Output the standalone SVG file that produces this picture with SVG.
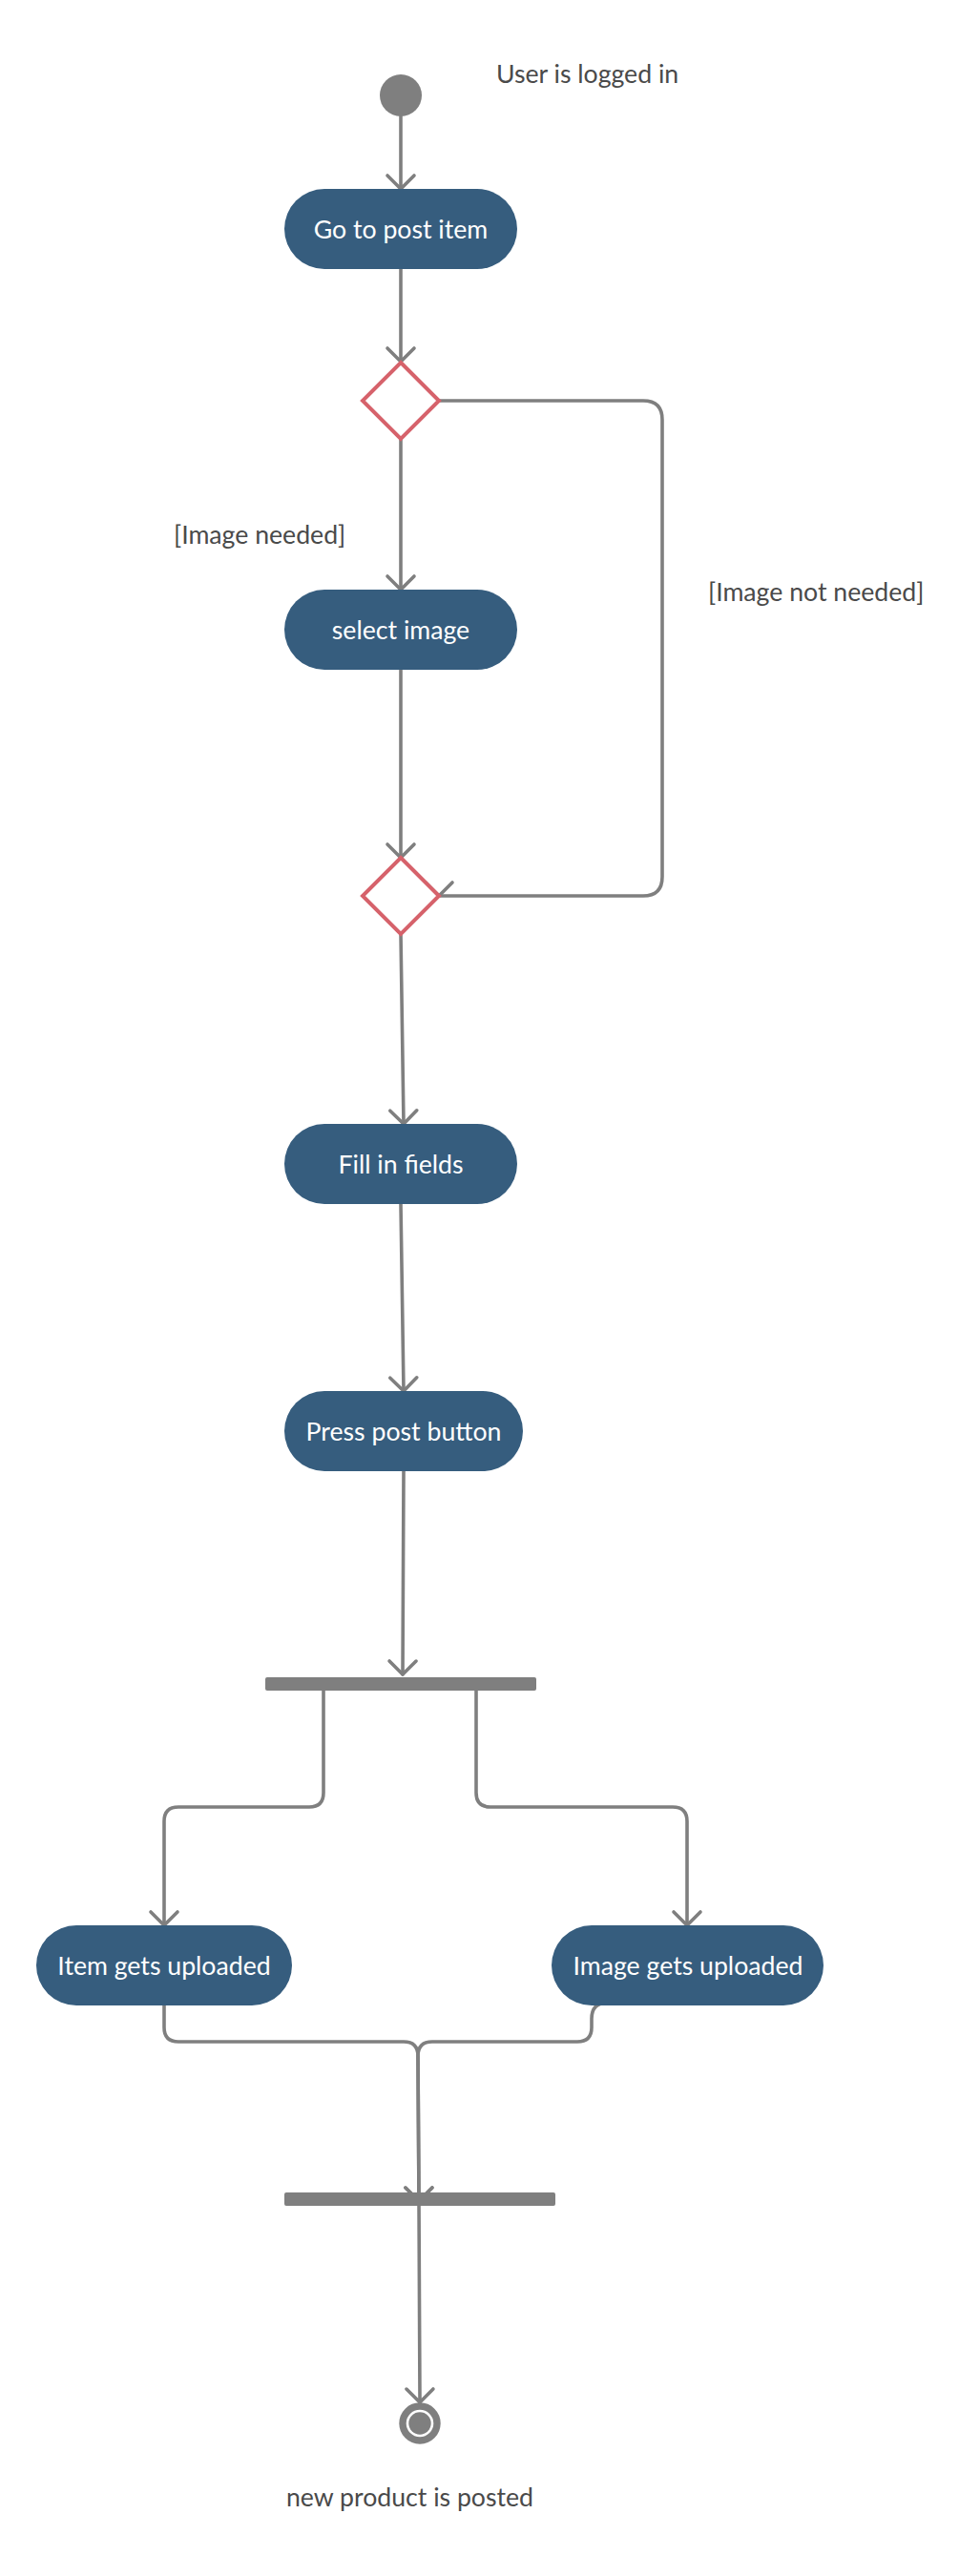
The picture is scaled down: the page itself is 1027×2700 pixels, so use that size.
<svg xmlns="http://www.w3.org/2000/svg" width="1027" height="2700" viewBox="0 0 1027 2700">
  <defs>
    <marker id="open-arrow" markerUnits="userSpaceOnUse" markerWidth="40" markerHeight="40" viewBox="-20 -20 40 40" refX="0" refY="0" orient="auto" overflow="visible">
      <path d="M-14,-14 L0,0 L-14,14" fill="none" stroke="#7f7f7f" stroke-width="3.6" stroke-linecap="round" stroke-linejoin="round"/>
    </marker>
    <style>
      .bg { fill: #ffffff; }
      .action rect { fill: #365d7e; }
      .action text { fill: #ffffff; font-family: Lato, "Liberation Sans", sans-serif; font-size: 26.67px; text-anchor: middle; }
      .decision path { fill: #ffffff; stroke: #d6626b; stroke-width: 4; stroke-linejoin: miter; }
      .bar rect { fill: #7f7f7f; }
      .label { fill: #4a4a4a; font-family: Lato, "Liberation Sans", sans-serif; font-size: 26.67px; }
      .flow { fill: none; stroke: #7f7f7f; stroke-width: 3.6; stroke-linecap: round; stroke-linejoin: round; }
      .flow-arrow { marker-end: url(#open-arrow); }
    </style>
  </defs>

  <rect class="bg" x="0" y="0" width="1027" height="2700"/>

  <!-- connectors -->
  <g id="connectors">
    <path class="flow flow-arrow" d="M420,122 L420,198"/>
    <path class="flow flow-arrow" d="M420,282 L420,379"/>
    <path class="flow flow-arrow" d="M420,460 L420,618"/>
    <path class="flow flow-arrow" d="M420,702 L420,899"/>
    <!-- [Image not needed] branch around the right side -->
    <path class="flow" d="M460,420 L674,420 Q694,420 694,440 L694,919 Q694,939 674,939 L460,939"/>
    <path class="flow" d="M446,925 L460,939 L474,925"/>
    <path class="flow flow-arrow" d="M420,979 L423,1178"/>
    <path class="flow flow-arrow" d="M420,1262 L423,1458"/>
    <path class="flow flow-arrow" d="M423,1542 L422,1755"/>
    <!-- fork -->
    <path class="flow flow-arrow" d="M339,1772 L339,1879 Q339,1894 324,1894 L187,1894 Q172,1894 172,1909 L172,2018"/>
    <path class="flow flow-arrow" d="M499,1772 L499,1879 Q499,1894 514,1894 L705,1894 Q720,1894 720,1909 L720,2018"/>
    <!-- join -->
    <path class="flow flow-arrow" d="M172,2102 L172,2125 Q172,2140 187,2140 L423,2140 Q438,2140 438,2155 L439,2307"/>
    <path class="flow flow-arrow" d="M721,2099 L637,2099 Q620,2099 620,2116 L620,2125 Q620,2140 605,2140 L453,2140 Q438,2140 438,2155 L439,2307"/>
    <path class="flow flow-arrow" d="M439,2307 L440,2518"/>
  </g>

  <!-- start -->
  <g id="start">
    <circle cx="420" cy="100" r="22" fill="#7f7f7f"/>
  </g>
  <g id="start-note">
    <text class="label" x="520" y="87">User is logged in</text>
  </g>

  <g id="go-to-post-item" class="action">
    <rect x="298" y="198" width="244" height="84" rx="42"/>
    <text x="420" y="249.5">Go to post item</text>
  </g>

  <g id="decision-image" class="decision">
    <path d="M420,380 L460,420 L420,460 L380,420 Z"/>
  </g>

  <g id="label-image-needed">
    <text class="label" x="182" y="570">[Image needed]</text>
  </g>
  <g id="label-image-not-needed">
    <text class="label" x="742" y="630">[Image not needed]</text>
  </g>

  <g id="select-image" class="action">
    <rect x="298" y="618" width="244" height="84" rx="42"/>
    <text x="420" y="669.5">select image</text>
  </g>

  <g id="merge-image" class="decision">
    <path d="M420,899 L460,939 L420,979 L380,939 Z"/>
  </g>

  <g id="fill-in-fields" class="action">
    <rect x="298" y="1178" width="244" height="84" rx="42"/>
    <text x="420" y="1229.5">Fill in fields</text>
  </g>

  <g id="press-post-button" class="action">
    <rect x="298" y="1458" width="250" height="84" rx="42"/>
    <text x="423" y="1509.5">Press post button</text>
  </g>

  <g id="fork-bar" class="bar">
    <rect x="278" y="1758" width="284" height="14" rx="2"/>
  </g>

  <g id="item-gets-uploaded" class="action">
    <rect x="38" y="2018" width="268" height="84" rx="42"/>
    <text x="172" y="2069.5">Item gets uploaded</text>
  </g>

  <g id="image-gets-uploaded" class="action">
    <rect x="578" y="2018" width="285" height="84" rx="42"/>
    <text x="721" y="2069.5">Image gets uploaded</text>
  </g>

  <g id="join-bar" class="bar">
    <rect x="298" y="2298" width="284" height="14" rx="2"/>
  </g>

  <!-- end -->
  <g id="end">
    <circle cx="440" cy="2540" r="18" fill="#ffffff" stroke="#7f7f7f" stroke-width="7.4"/>
    <circle cx="440" cy="2540" r="11.7" fill="#7f7f7f"/>
  </g>
  <g id="end-note">
    <text class="label" x="300" y="2627">new product is posted</text>
  </g>
</svg>
